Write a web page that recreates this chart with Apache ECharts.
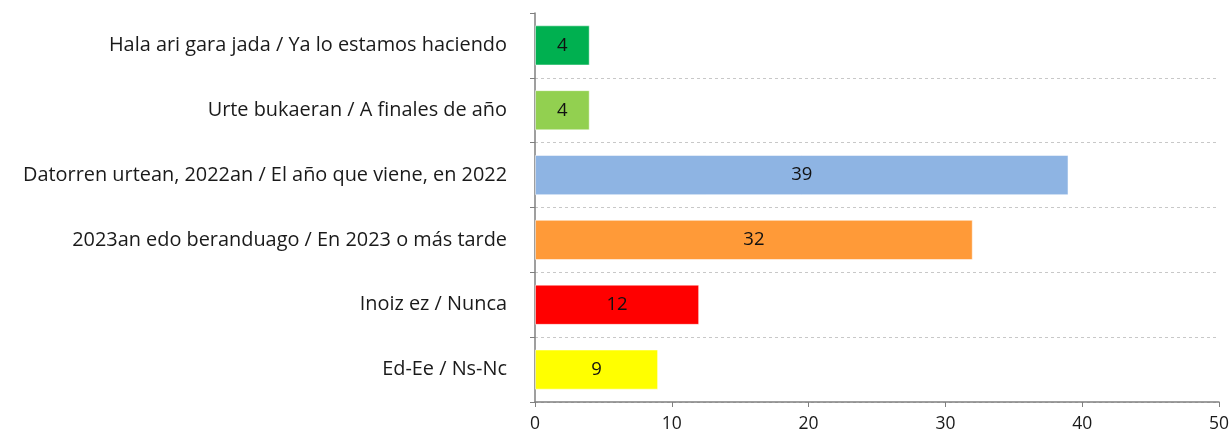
<!DOCTYPE html>
<html><head><meta charset="utf-8">
<script src="https://cdn.jsdelivr.net/npm/echarts@6/dist/echarts.min.js"></script>
<style>html,body{margin:0;padding:0;background:#fff}#c{width:1232px;height:436px}</style>
</head><body><div id="c"></div>
<script>
const categories = [
  "Hala ari gara jada / Ya lo estamos haciendo",
  "Urte bukaeran / A finales de año",
  "Datorren urtean, 2022an / El año que viene, en 2022",
  "2023an edo beranduago / En 2023 o más tarde",
  "Inoiz ez / Nunca",
  "Ed-Ee / Ns-Nc"
];
const values = [4, 4, 39, 32, 12, 9];
const colors = ["#00B050", "#92D050", "#8EB4E3", "#FF9A38", "#FF0000", "#FFFF00"];
const xTicks = [0, 10, 20, 30, 40, 50];

const chart = echarts.init(document.getElementById('c'));
const font = "Open Sans";
chart.setOption({
  animation: false,
  grid: { left: 535, right: 12, top: 13, bottom: 34, containLabel: false },
  xAxis: {
    type: 'value', min: xTicks[0], max: xTicks[xTicks.length-1], interval: 10,
    axisLine: { show: true, lineStyle: { color: '#7f7f7f', width: 1.5 } },
    axisTick: { show: true, length: 5, lineStyle: { color: '#7f7f7f' } },
    axisLabel: { color: '#1a1a1a', fontSize: 17.5, fontFamily: font, margin: 13 },
    splitLine: { show: false }
  },
  yAxis: {
    type: 'category', inverse: true, data: categories,
    axisLine: { show: true, lineStyle: { color: '#7f7f7f', width: 1.5 } },
    axisTick: { show: true, length: 5, lineStyle: { color: '#7f7f7f' } },
    axisLabel: { color: '#1a1a1a', fontSize: 19.9, fontFamily: font, margin: 28 },
    splitLine: { show: true, interval: function (i) { return i !== 0; }, lineStyle: { color: '#c8c8c8', type: [3, 3], width: 1 } }
  },
  series: [{
    type: 'bar', barCategoryGap: '38%',
    data: values.map((v, i) => ({ value: v, itemStyle: { color: colors[i], borderColor: 'rgba(255,255,255,0.5)', borderWidth: 1 } })),
    label: { show: true, position: 'inside', color: '#111', fontSize: 18.5, fontFamily: font }
  }]
});
</script></body></html>
